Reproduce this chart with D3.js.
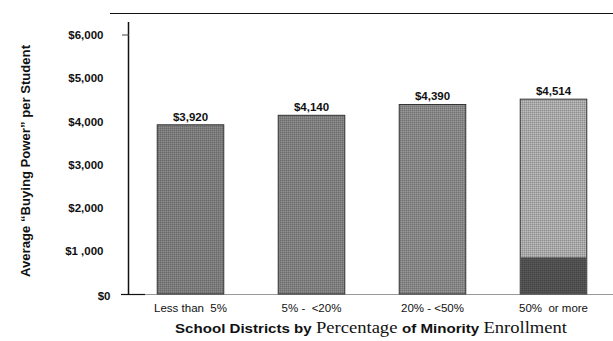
<!DOCTYPE html>
<html lang="en">
<head>
<meta charset="UTF-8">
<title>Buying Power per Student</title>
<script src="https://d3js.org/d3.v7.min.js"></script>
<style>
    body { margin: 0; background: #fff; }
    svg { display: block; }
    .tick-label { font-family: "Liberation Sans", Arial, sans-serif; font-size: 11.5px; font-weight: bold; fill: #111; }
    .value-label { font-family: "Liberation Sans", Arial, sans-serif; font-size: 11.5px; font-weight: bold; fill: #111; }
    .cat-label { font-family: "Liberation Sans", Arial, sans-serif; font-size: 11.5px; fill: #111; }
</style>
</head>
<body>
<div id="chart"></div>
<script>
    // data
    const categories = ["Less than  5%", "5% -  <20%", "20% - <50%", "50%  or more"];
    const buyingPower = [3920, 4140, 4390, 4514];
    const valueLabels = ["$3,920", "$4,140", "$4,390", "$4,514"];
    const yTicks = [0, 1000, 2000, 3000, 4000, 5000, 6000];
    const yTickLabels = ["$0", "$1 ,000", "$2,000", "$3,000", "$4,000", "$5,000", "$6,000"];
    const barShades = ["#7c7c7c", "#808080", "#878787", "#a9a9a9"];
    // darker lower block on the last bar
    const lastBarBase = 850;

    const width = 613, height = 341;
    const svg = d3.select("#chart").append("svg")
        .attr("width", width)
        .attr("height", height);

    const x = d3.scaleBand()
        .domain(categories)
        .range([130, 614])
        .paddingInner(0.45)
        .paddingOuter(0.225);

    const y = d3.scaleLinear()
        .domain([0, 6000])
        .range([294, 35]);

    // dither-like texture
    const defs = svg.append("defs");
    barShades.concat(["#505050"]).forEach((c, i) => {
        const p = defs.append("pattern")
            .attr("id", "dither" + i)
            .attr("width", 2).attr("height", 2)
            .attr("patternUnits", "userSpaceOnUse");
        p.append("rect").attr("width", 2).attr("height", 2).attr("fill", c);
        p.append("rect").attr("width", 1).attr("height", 1).attr("fill", d3.color(c).darker(0.5));
        p.append("rect").attr("x", 1).attr("y", 1).attr("width", 1).attr("height", 1).attr("fill", d3.color(c).brighter(0.3));
    });

    // top rule
    svg.append("line")
        .attr("x1", 110).attr("x2", 613)
        .attr("y1", 13.5).attr("y2", 13.5)
        .attr("stroke", "#111").attr("stroke-width", 1.2);

    // baseline
    svg.append("line")
        .attr("x1", 130).attr("x2", 613)
        .attr("y1", y(0) + 0.5).attr("y2", y(0) + 0.5)
        .attr("stroke", "#999").attr("stroke-width", 1);

    // bars
    svg.selectAll(".bar")
        .data(buyingPower)
        .enter()
        .append("rect")
        .attr("class", "bar")
        .attr("x", (d, i) => x(categories[i]))
        .attr("y", d => y(d))
        .attr("width", x.bandwidth())
        .attr("height", d => y(0) - y(d))
        .attr("fill", (d, i) => `url(#dither${i})`)
        .attr("stroke", "#333")
        .attr("stroke-width", 1);

    svg.append("rect")
        .attr("x", x(categories[3]) + 0.5)
        .attr("y", y(lastBarBase))
        .attr("width", x.bandwidth() - 1)
        .attr("height", y(0) - y(lastBarBase))
        .attr("fill", "url(#dither4)");

    // value labels
    svg.selectAll(".value-label")
        .data(buyingPower)
        .enter()
        .append("text")
        .attr("class", "value-label")
        .attr("x", (d, i) => x(categories[i]) + x.bandwidth() / 2)
        .attr("y", d => y(d) - 4)
        .attr("text-anchor", "middle")
        .text((d, i) => valueLabels[i]);

    // y axis
    const yAxis = d3.axisLeft(y)
        .tickValues(yTicks)
        .tickSize(0)
        .tickPadding(26)
        .tickFormat((d, i) => yTickLabels[i]);
    const yg = svg.append("g")
        .attr("transform", "translate(129.5,0)")
        .call(yAxis);
    yg.select(".domain").remove();
    yg.selectAll("text").attr("class", "tick-label").attr("font-family", null).attr("font-size", null);
    // the $0 label sits a bit further right in the original
    yg.selectAll(".tick").filter(d => d === 0).select("text").attr("x", -19).attr("dy", "0.45em");
    svg.append("line")
        .attr("x1", 128.5).attr("x2", 128.5)
        .attr("y1", 22).attr("y2", y(0) + 1)
        .attr("stroke", "#111").attr("stroke-width", 1.5);
    svg.append("line")
        .attr("x1", 122).attr("x2", 129)
        .attr("y1", y(6000)).attr("y2", y(6000))
        .attr("stroke", "#444").attr("stroke-width", 1);
    svg.append("line")
        .attr("x1", 121).attr("x2", 145)
        .attr("y1", y(0) + 0.5).attr("y2", y(0) + 0.5)
        .attr("stroke", "#111").attr("stroke-width", 1.2);

    // category labels
    const xAxis = d3.axisBottom(x).tickSize(0).tickPadding(10);
    const xg = svg.append("g")
        .attr("transform", `translate(0,${y(0)})`)
        .call(xAxis);
    xg.select(".domain").remove();
    xg.selectAll("text").attr("class", "cat-label").attr("font-family", null).attr("font-size", null)
        .style("white-space", "pre").attr("xml:space", "preserve");

    // x axis title
    const xt = svg.append("text")
        .attr("x", 371)
        .attr("y", 333)
        .attr("text-anchor", "middle")
        .attr("xml:space", "preserve")
        .attr("textLength", 392)
        .attr("lengthAdjust", "spacingAndGlyphs")
        .style("fill", "#111");
    const titleParts = [
        ["School Districts by ", "bold"],
        ["Percentage ", "serif"],
        ["of Minority ", "bold"],
        ["Enrollment", "serif"]
    ];
    titleParts.forEach(([t, k]) => {
        xt.append("tspan")
            .attr("font-family", k === "bold" ? "'Liberation Sans', Arial, sans-serif" : "'Liberation Serif', 'Times New Roman', serif")
            .attr("font-weight", k === "bold" ? "bold" : "normal")
            .attr("font-size", k === "bold" ? "13px" : "16px")
            .text(t);
    });

    // y axis title
    svg.append("text")
        .attr("transform", "translate(30,161) rotate(-90)")
        .attr("text-anchor", "middle")
        .attr("textLength", 232)
        .attr("lengthAdjust", "spacingAndGlyphs")
        .style("font-family", "'Liberation Sans', Arial, sans-serif")
        .style("font-size", "13px")
        .style("font-weight", "bold")
        .style("fill", "#111")
        .text("Average \u201CBuying Power\u201D per Student");
</script>
</body>
</html>
